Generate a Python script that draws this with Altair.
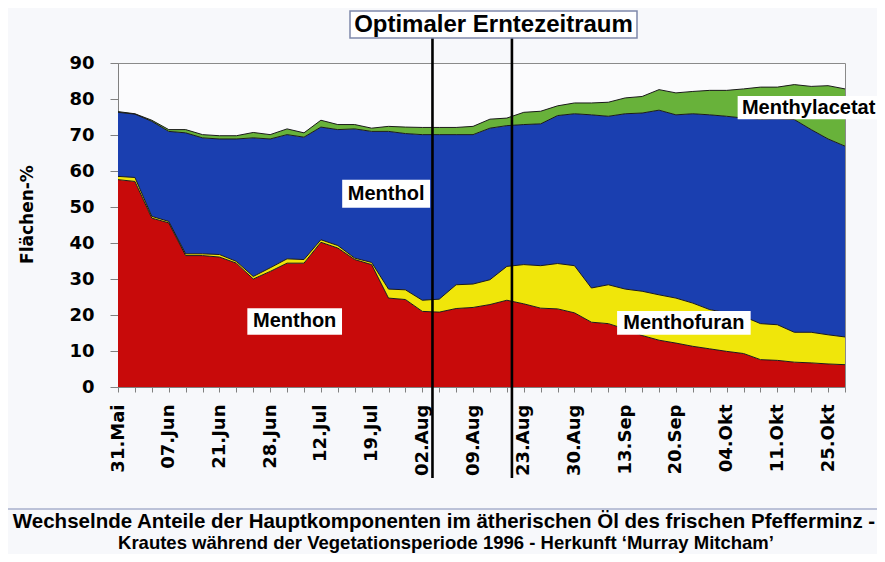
import json
import altair as alt
import pandas as pd

# ---------------- data ----------------
date_labels = ["31.Mai", "07.Jun", "21.Jun", "28.Jun", "12.Jul", "19.Jul", "02.Aug",
               "09.Aug", "23.Aug", "30.Aug", "13.Sep", "20.Sep", "04.Okt", "11.Okt", "25.Okt"]
sample_index = list(range(44))

menthon = [57.6, 57.1, 46.9, 45.6, 36.5, 36.5, 36.1, 34.4, 30.0, 32.1, 34.4, 34.4, 40.2, 38.6,
           35.4, 34.0, 24.7, 24.3, 21.0, 20.8, 21.8, 22.1, 22.9, 24.1, 23.1, 21.9, 21.7, 20.6,
           18.0, 17.6, 16.1, 14.3, 13.0, 12.2, 11.3, 10.6, 9.9, 9.3, 7.6, 7.4, 6.9, 6.7, 6.4, 6.2]
menthofuran = [0.9, 1.1, 0.5, 0.4, 0.5, 0.5, 0.7, 0.5, 0.7, 1.0, 1.2, 1.0, 0.7, 0.7,
               0.4, 0.6, 2.5, 2.7, 3.1, 3.6, 6.6, 6.5, 6.9, 9.4, 10.9, 11.8, 12.6, 13.1,
               9.5, 10.8, 11.1, 12.3, 12.6, 12.5, 12.0, 10.9, 10.7, 10.3, 10.0, 9.9, 8.3, 8.5, 8.1, 7.7]
menthol = [17.8, 17.6, 26.4, 25.0, 33.6, 32.2, 32.1, 34.0, 38.5, 35.8, 34.5, 34.0, 31.3, 32.2,
           35.9, 36.4, 43.8, 43.4, 46.0, 45.7, 41.7, 41.5, 42.1, 39.1, 38.9, 39.4, 41.1, 42.2,
           48.1, 46.8, 48.7, 49.5, 51.3, 50.9, 52.6, 54.1, 54.6, 55.1, 56.8, 57.2, 59.1, 56.3, 54.4, 53.0]
menthylacetat = [0.2, 0.1, 0.3, 0.5, 0.9, 0.9, 0.9, 0.9, 1.5, 1.2, 1.6, 1.2, 1.9, 1.4,
                 1.2, 0.9, 1.4, 1.8, 2.0, 2.0, 2.0, 2.3, 2.5, 2.1, 3.4, 3.5, 2.7, 3.0,
                 3.3, 3.9, 4.4, 4.6, 5.7, 6.1, 6.2, 6.8, 7.2, 8.1, 8.9, 8.8, 9.7, 12.0, 14.8, 15.9]

series_names = ["Menthon", "Menthofuran", "Menthol", "Menthylacetat"]
series_values = [menthon, menthofuran, menthol, menthylacetat]

harvest_window = [18.6, 23.3]          # positions (sample index) of the two vertical lines
harvest_title = "Optimaler Erntezeitraum"
y_title = "Flächen-%"
caption = ["Wechselnde Anteile der Hauptkomponenten im ätherischen Öl des frischen Pfefferminz -",
           "Krautes während der Vegetationsperiode 1996 - Herkunft ‘Murray Mitcham’"]

# in-chart labels (anchor in data coordinates)
label_names = ["Menthol", "Menthon", "Menthofuran", "Menthylacetat"]
label_idx = [15.86, 10.45, 33.47, 40.85]
label_val = [53.7, 18.2, 17.8, 77.6]

# ---------------- styles ----------------
series_colors = ["#c80a0a", "#f0e60a", "#1a3fb0", "#68b23a"]
BOLD_SANS = "Liberation Sans, Arial, Helvetica, sans-serif"
AXIS_FONT = "DejaVu Sans"

# ---------------- tables ----------------
rows = []
lower = [0.0] * len(sample_index)
for name, vals in zip(series_names, series_values):
    for i, v in zip(sample_index, vals):
        rows.append({"idx": i, "series": name, "lo": lower[i], "hi": lower[i] + v})
    lower = [lower[i] + vals[i] for i in sample_index]
df = pd.DataFrame(rows)

# label boxes: half-widths in index units and half-heights in value units
box_half_w = [2.6, 2.8, 3.95, 4.2]
box_half_h = [3.9, 3.7, 3.3, 3.2]
df_labels = pd.DataFrame({
    "idx": label_idx, "hi": label_val, "text": label_names,
    "bx0": [x - w for x, w in zip(label_idx, box_half_w)],
    "bx1": [x + w for x, w in zip(label_idx, box_half_w)],
    "by0": [y - h for y, h in zip(label_val, box_half_h)],
    "by1": [y + h for y, h in zip(label_val, box_half_h)],
})
df_rules = pd.DataFrame({"idx": harvest_window})

label_expr = "datum.value % 3 == 0 ? " + json.dumps(date_labels) + "[datum.value / 3] : ''"

x_scale = alt.Scale(domain=[0, 43], nice=False, zero=False)
y_scale = alt.Scale(domain=[0, 90], nice=False)

x_axis = alt.Axis(values=sample_index, labelExpr=label_expr, labelAngle=270,
                  labelFont=AXIS_FONT, labelFontWeight="bold", labelFontSize=18,
                  labelColor="black", labelPadding=12, labelOverlap=False, labelFlush=False,
                  labelBound=False, tickSize=5, tickColor="#808080", domainColor="#808080",
                  grid=False, title=None)
y_axis = alt.Axis(values=list(range(0, 91, 10)), labelFont=AXIS_FONT, labelFontWeight="bold",
                  labelFontSize=18, labelColor="black", labelPadding=16, tickSize=8,
                  labelOverlap=False, labelFlush=False,
                  tickColor="#808080", domainColor="#808080", grid=False,
                  title=y_title, titleFont=AXIS_FONT, titleFontSize=17, titleFontWeight="bold",
                  titleColor="black", titleX=-82, titleY=151)

X = alt.X("idx:Q", scale=x_scale, axis=x_axis)
Y = alt.Y("hi:Q", scale=y_scale, axis=y_axis)

area = alt.Chart(df).mark_area(opacity=1, interpolate="linear").encode(
    x=X, y=Y, y2="lo:Q",
    color=alt.Color("series:N", scale=alt.Scale(domain=series_names, range=series_colors), legend=None),
    detail="series:N",
)
outline = alt.Chart(df).mark_line(color="#1a1a1a", strokeWidth=1).encode(
    x=X, y=Y, detail="series:N"
)

label_box = alt.Chart(df_labels).mark_rect(fill="white").encode(
    x=alt.X("bx0:Q", scale=x_scale, axis=x_axis), x2="bx1:Q",
    y=alt.Y("by0:Q", scale=y_scale, axis=y_axis), y2="by1:Q",
)
label_text = alt.Chart(df_labels).mark_text(
    font=BOLD_SANS, fontWeight="bold", fontSize=20, color="black", align="center", baseline="middle"
).encode(x=X, y=Y, text="text:N")

rules = alt.Chart(df_rules).mark_rule(color="black", strokeWidth=2.6).encode(
    x=X, y=alt.value(-25), y2=alt.value(415)
)

title_df = pd.DataFrame({"t": [harvest_title]})
title_box = alt.Chart(title_df).mark_rect(fill="white", stroke="#7f88aa", strokeWidth=1.5).encode(
    x=alt.value(232), x2=alt.value(519), y=alt.value(-52), y2=alt.value(-25)
)
title_text = alt.Chart(title_df).mark_text(
    font=BOLD_SANS, fontWeight="bold", fontSize=24, color="black", align="center", baseline="middle"
).encode(x=alt.value(375.5), y=alt.value(-38), text="t:N")

sep = alt.Chart(title_df).mark_rule(color="#a9b0cc", strokeWidth=1.5).encode(
    x=alt.value(-110), x2=alt.value(760), y=alt.value(446)
)
cap1 = alt.Chart(pd.DataFrame({"t": [caption[0]]})).mark_text(
    font=BOLD_SANS, fontWeight="bold", fontSize=20.5, color="black", align="center", baseline="alphabetic"
).encode(x=alt.value(326), y=alt.value(465), text="t:N")
cap2 = alt.Chart(pd.DataFrame({"t": [caption[1]]})).mark_text(
    font=BOLD_SANS, fontWeight="bold", fontSize=18.5, color="black", align="center", baseline="alphabetic"
).encode(x=alt.value(328), y=alt.value(486), text="t:N")

chart = alt.layer(
    area, outline, label_box, label_text, rules, title_box, title_text, sep, cap1, cap2
).properties(
    width=727, height=324,
    autosize=alt.AutoSizeParams(type="none"),
    padding={"left": 110, "top": 55, "right": 32, "bottom": 167},
    background="#f7f8fb",
).configure_view(
    stroke="#8a8a8a", strokeWidth=1, fill="#fbfbfd"
)

chart.save("out.html", embed_options={"renderer": "svg", "actions": False})
